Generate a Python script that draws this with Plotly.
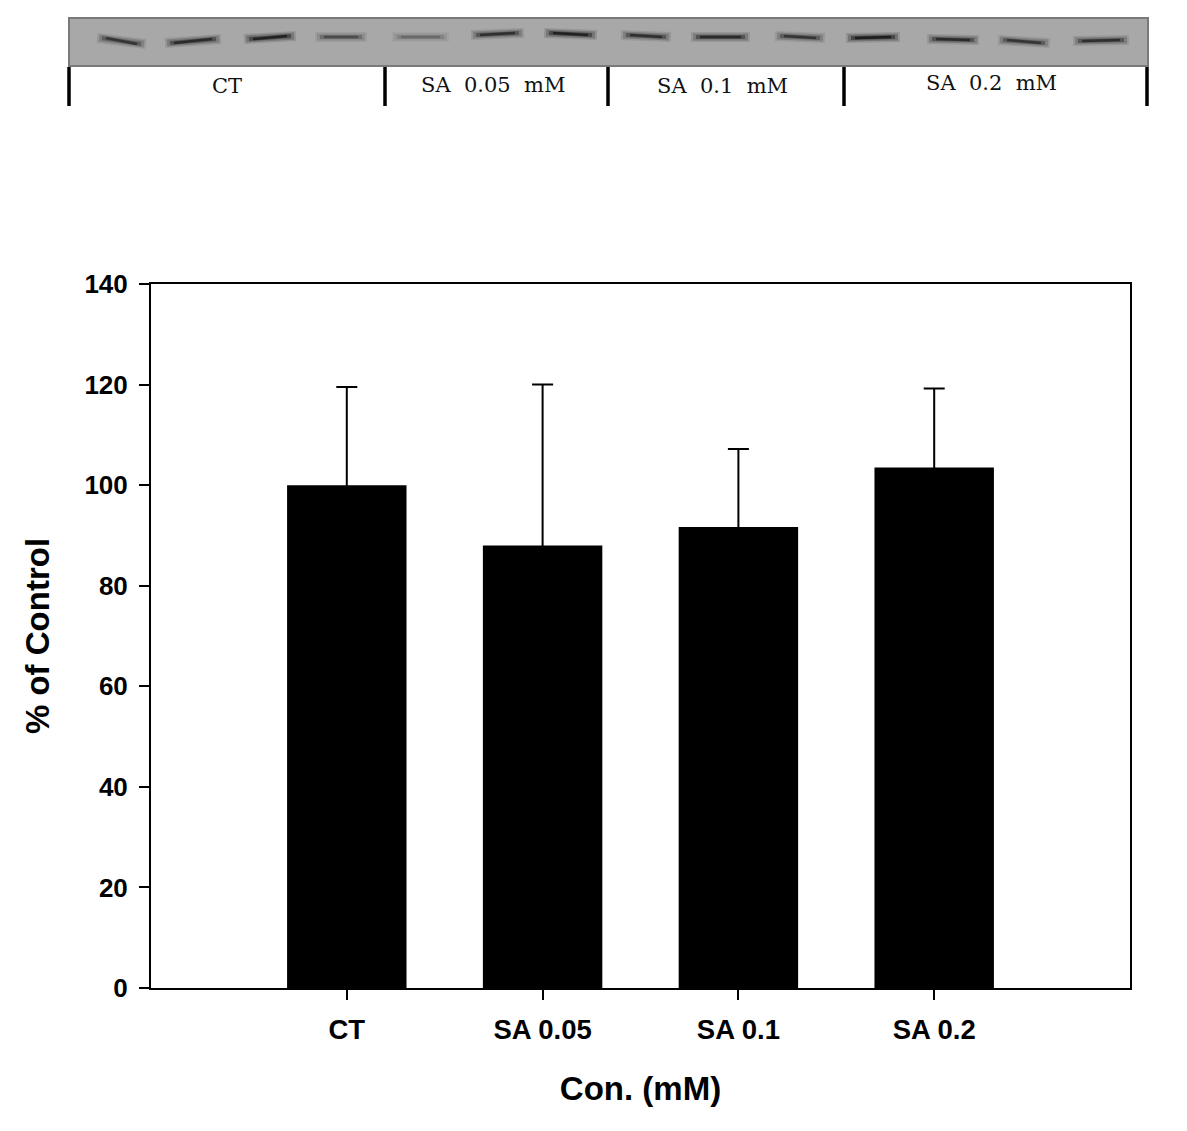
import plotly.graph_objects as go

W, H = 1187, 1131
L, R, T, B = 151, 1130, 284, 988

categories = ["CT", "SA 0.05", "SA 0.1", "SA 0.2"]
values = [100, 88, 91.7, 103.5]
errors = [19.5, 32, 15.5, 15.7]
y_ticks = [0, 20, 40, 60, 80, 100, 120, 140]

# blot strip: x0, y0, x1, y1, darkness 0..1 (page pixels)
blot_bands = [
    (97, 38, 146, 44, 0.7), (165, 43, 221, 39, 0.8), (244, 39, 296, 36, 0.9),
    (315, 37, 367, 37, 0.5), (392, 37, 449, 37, 0.3), (471, 35, 524, 33, 0.75),
    (544, 33, 597, 35, 0.9), (621, 35, 671, 37, 0.75), (691, 37, 750, 37, 0.8),
    (775, 36, 825, 38, 0.7), (846, 38, 900, 37, 0.95), (927, 39, 979, 40, 0.8),
    (998, 40, 1050, 43, 0.7), (1073, 41, 1129, 40, 0.75),
]
blot_separators = [69, 385, 608, 844, 1147]
blot_labels = [("CT", 227, 86), ("SA  0.05  mM", 493, 85), ("SA  0.1  mM", 722, 86), ("SA  0.2  mM", 991, 83)]


def px(x):
    return (x - L) / (R - L)


def py(y):
    return (B - y) / (B - T)


shapes = [dict(type="rect", xref="paper", yref="paper", x0=px(69), x1=px(1148), y0=py(18), y1=py(66),
               fillcolor="#a8a8a8", line=dict(color="#7a7a7a", width=2), layer="below")]
for x0, y0, x1, y1, d in blot_bands:
    # soft halo first, then a darker core, to imitate the blurred band
    for inset, width, opacity in ((0, 10, 0.12 * d), (2, 7, 0.22 * d), (5, 4, 0.4 * d), (9, 2.5, 0.6 * d)):
        shapes.append(dict(type="line", xref="paper", yref="paper", x0=px(x0 + inset), x1=px(x1 - inset),
                           y0=py(y0), y1=py(y1), opacity=opacity,
                           line=dict(color="black", width=width)))
for x in blot_separators:
    shapes.append(dict(type="line", xref="paper", yref="paper", x0=px(x), x1=px(x), y0=py(67), y1=py(106),
                       line=dict(color="black", width=3.5)))

annotations = [dict(text=t, x=px(x), y=py(y), xref="paper", yref="paper", showarrow=False,
                    xanchor="center", yanchor="middle",
                    font=dict(family="DejaVu Serif", size=21, color="#111111"))
               for t, x, y in blot_labels]

fig = go.Figure(go.Bar(
    x=categories, y=values, width=0.61, marker=dict(color="black", line=dict(width=0)),
    error_y=dict(type="data", symmetric=False, array=errors, arrayminus=[3] * 4,
                 color="black", thickness=2, width=10.5),
))

x_font = dict(family="Liberation Sans", size=27.5, color="black", weight="bold")
y_font = dict(family="Liberation Sans", size=26, color="black", weight="bold")
title_font = dict(family="Liberation Sans", size=33, color="black", weight="bold")
fig.update_layout(
    width=W, height=H, margin=dict(l=L, r=W - R, t=T, b=H - B, pad=0, autoexpand=False),
    paper_bgcolor="white", plot_bgcolor="white", showlegend=False,
    shapes=shapes, annotations=annotations,
    xaxis=dict(type="category", categoryorder="array", categoryarray=categories, range=[-1, 4],
               ticks="outside", ticklen=10, tickwidth=2, tickcolor="black", tickfont=x_font,
               ticklabelstandoff=6,
               showline=True, mirror=True, linecolor="black", linewidth=2, showgrid=False,
               title=dict(text="Con. (mM)", font=title_font, standoff=33)),
    yaxis=dict(range=[0, 140], tickvals=y_ticks, ticks="outside", ticklen=10, tickwidth=2,
               tickcolor="black", tickfont=y_font, showline=True, mirror=True, linecolor="black",
               ticklabelstandoff=6,
               linewidth=2, showgrid=False, zeroline=False,
               title=dict(text="% of Control", font=title_font, standoff=25)),
)
fig.write_html("out.html", config={"displayModeBar": False}, post_script="document.body.style.margin='0';")
